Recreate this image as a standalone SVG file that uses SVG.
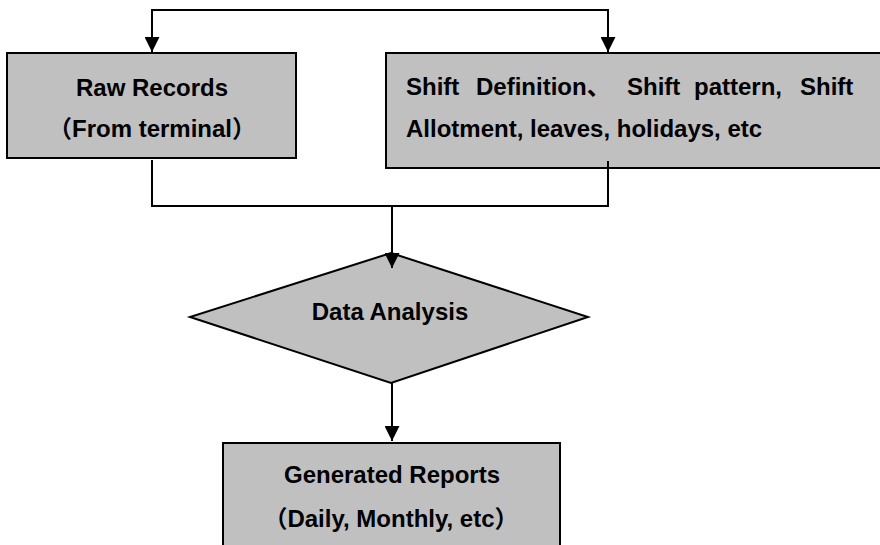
<svg xmlns="http://www.w3.org/2000/svg" width="880" height="545" viewBox="0 0 880 545">
<style>
.box{fill:#c0c0c0;stroke:#000;stroke-width:2}
.ln{fill:none;stroke:#000;stroke-width:2}
.t{font-family:"Liberation Sans","Noto Sans CJK SC",sans-serif;font-weight:bold;font-size:24px;fill:#000}
</style>
<defs>
<marker id="ah" viewBox="0 0 10 10" refX="10" refY="5" markerWidth="15" markerHeight="15" markerUnits="userSpaceOnUse" orient="auto">
<path d="M0,0 L10,5 L0,10 z" fill="#000"/>
</marker>
</defs>
<rect width="880" height="545" fill="#fff"/>
<g id="raw">
<rect class="box" x="7" y="53" width="289" height="105"/>
<text class="t" x="152" y="96" text-anchor="middle">Raw Records</text>
<text class="t" x="152" y="137" text-anchor="middle">（From terminal）</text>
</g>
<g id="shift">
<rect class="box" x="386" y="53" width="510" height="115"/>
<text class="t" y="95"><tspan x="406">Shift</tspan><tspan x="476">Definition、</tspan><tspan x="627">Shift</tspan><tspan x="694">pattern,</tspan><tspan x="800">Shift</tspan></text>
<text class="t" x="406" y="137">Allotment, leaves, holidays, etc</text>
</g>
<g id="analysis">
<polygon class="box" points="391,253 588,317 391,383 190,317"/>
<text class="t" x="390" y="320" text-anchor="middle">Data Analysis</text>
</g>
<g id="reports">
<rect class="box" x="223" y="443" width="337" height="120"/>
<text class="t" x="392" y="483" text-anchor="middle">Generated Reports</text>
<text class="t" x="391" y="527" text-anchor="middle">（Daily, Monthly, etc）</text>
</g>
<g id="connectors">
<polyline class="ln" points="152,52 152,10 608,10 608,52" marker-end="url(#ah)"/>
<line class="ln" x1="152" y1="10" x2="152" y2="52" marker-end="url(#ah)"/>
<polyline class="ln" points="152,160 152,206 608,206 608,161"/>
<line class="ln" x1="392" y1="206" x2="392" y2="268" marker-end="url(#ah)"/>
<line class="ln" x1="392" y1="383" x2="392" y2="441" marker-end="url(#ah)"/>
</g>
</svg>
